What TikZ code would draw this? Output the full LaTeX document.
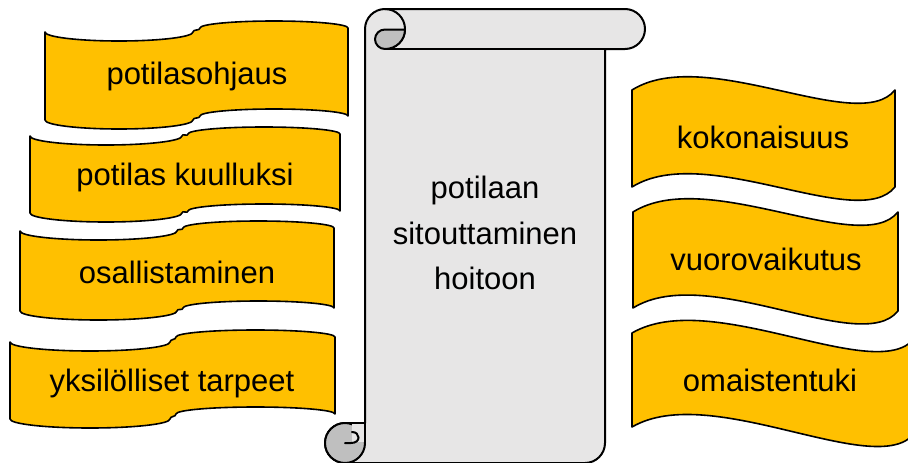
\documentclass[tikz,border=0pt]{standalone}
\usepackage{fontspec}
\setmainfont{Liberation Sans}
\definecolor{ribbonfill}{HTML}{FFC000}
\definecolor{paperfill}{HTML}{E7E6E6}
\definecolor{curlfill}{HTML}{BFBFBF}

% depth of the left/right halves of the folded ribbons and wave strength
\def\dipL{9}
\def\dipR{7}
\def\waveK{46}

\tikzset{
  ribbonshape/.style={fill=ribbonfill, draw=black, line width=1.6pt, line join=round},
  scrollshape/.style={fill=paperfill, draw=black, line width=2pt, line join=round},
  curlshape/.style={fill=curlfill, draw=black, line width=2pt, line join=round},
  ribbontext/.style={font=\fontsize{31}{37}\selectfont, inner sep=0pt},
  scrolltext/.style={font=\fontsize{31}{45.5}\selectfont, align=center, inner sep=0pt}
}

% folded ribbon: left x, step start, step end, right x, left-half y, right-half y, height
\newcommand\ribbonL[7]{%
  \pgfmathsetmacro\rlA{(#1+#2)/2}%
  \pgfmathsetmacro\rlB{(#3+#4)/2}%
  \pgfmathsetmacro\rlK{0.5523*(#2-#1)/2}%
  \pgfmathsetmacro\rlL{0.5523*(#4-#3)/2}%
  \path[ribbonshape]
    (#1,#5) .. controls (#1,{#5+0.5523*\dipL}) and ({\rlA-\rlK},{#5+\dipL}) .. (\rlA,{#5+\dipL})
            .. controls ({\rlA+\rlK},{#5+\dipL}) and (#2,{#5+0.5523*\dipL}) .. (#2,#5)
            .. controls (#2,{#5-3}) and (#3,{#6+3}) .. (#3,#6)
            .. controls (#3,{#6-0.5523*\dipR}) and ({\rlB-\rlL},{#6-\dipR}) .. (\rlB,{#6-\dipR})
            .. controls ({\rlB+\rlL},{#6-\dipR}) and (#4,{#6-0.5523*\dipR}) .. (#4,#6)
    -- (#4,{#6+#7})
            .. controls (#4,{#6+#7-0.5523*\dipR}) and ({\rlB+\rlL},{#6+#7-\dipR}) .. (\rlB,{#6+#7-\dipR})
            .. controls ({\rlB-\rlL},{#6+#7-\dipR}) and (#3,{#6+#7-0.5523*\dipR}) .. (#3,{#6+#7})
            .. controls (#3,{#6+#7+3}) and (#2,{#5+#7-3}) .. (#2,{#5+#7})
            .. controls (#2,{#5+#7+0.5523*\dipL}) and ({\rlA+\rlK},{#5+#7+\dipL}) .. (\rlA,{#5+#7+\dipL})
            .. controls ({\rlA-\rlK},{#5+#7+\dipL}) and (#1,{#5+#7+0.5523*\dipL}) .. (#1,{#5+#7})
    -- cycle;
}

% waving ribbon: left x, right x, top y at left, top y at right, bottom y at left, bottom y at right
\newcommand\ribbonR[6]{%
  \pgfmathsetmacro\rrA{#1+0.28*(#2-#1)}%
  \pgfmathsetmacro\rrB{#1+0.86*(#2-#1)}%
  \path[ribbonshape]
    (#1,#3) .. controls (\rrA,{#3-\waveK}) and (\rrB,{#4+\waveK}) .. (#2,#4)
    -- (#2,#6) .. controls (\rrB,{#6+\waveK}) and (\rrA,{#5-\waveK}) .. (#1,#5) -- cycle;
}

\begin{document}
\begin{tikzpicture}[x=1pt, y=-1pt]
\useasboundingbox (0,0) rectangle (908,463);

% ribbons on the left
\ribbonL{45}{193}{200}{348}{32}{28}{88}
\ribbonL{30}{182}{188}{340}{136}{134}{77}
\ribbonL{20}{177}{183}{334}{231}{228}{80}
\ribbonL{10}{170}{176}{335}{342}{337}{77}

% ribbons on the right
\ribbonR{632}{895}{90}{90}{187}{187}
\ribbonR{633}{898}{212}{212}{308}{311}
\ribbonR{632}{914}{333}{339}{427}{434}

% the scroll: body, top roll and bottom roll outline
\path[scrollshape]
  (365,29) .. controls (365,18) and (374,9) .. (385,9)
  -- (625,9) .. controls (636,9) and (645,18) .. (645,29)
  .. controls (645,40) and (636,49) .. (625,49)
  -- (605,49) -- (605,443) .. controls (605,454) and (596,463) .. (585,463)
  -- (345,463) .. controls (334,463) and (325,454) .. (325,443)
  .. controls (325,432) and (334,423) .. (345,423)
  -- (365,423) -- cycle;
\draw[line width=2pt] (605,49) -- (385,49);

% top roll: curl and right half of the rolled end
\draw[line width=2pt] (385,9) .. controls (396,9) and (405,18) .. (405,29)
  .. controls (405,40) and (396,49) .. (385,49);
\path[curlshape] (385,29.5) -- (405,29.5)
  .. controls (405,40.5) and (396,49) .. (385,49)
  .. controls (379.5,49) and (375,44.5) .. (375,39.25)
  .. controls (375,34) and (379.5,29.5) .. (385,29.5) -- cycle;

% bottom roll
\path[curlshape] (345,443) circle (20);
\fill[paperfill] (352,424) rectangle (364,442);
\draw[line width=2pt, line cap=round] (345,443) -- (351,443)
  .. controls (356,443) and (358.5,440.5) .. (358.5,437.5)
  .. controls (358.5,434.5) and (356,432) .. (352,432);
\draw[line width=2pt] (345,423) -- (365,423) -- (365,443);

% labels
\node[ribbontext] (guidance) at (197,76) {potilasohjaus};
\node[ribbontext] (heard) at (185,177) {potilas kuulluksi};
\node[ribbontext] (involve) at (177,272) {osallistaminen};
\node[ribbontext] (needs) at (172,383) {yksilölliset tarpeet};
\node[ribbontext] (whole) at (763,137) {kokonaisuus};
\node[ribbontext] (interact) at (766,259) {vuorovaikutus};
\node[ribbontext] (relatives) at (770,380) {omaistentuki};
\node[scrolltext] (core) at (485,233) {potilaan\\sitouttaminen\\hoitoon};
\end{tikzpicture}
\end{document}
